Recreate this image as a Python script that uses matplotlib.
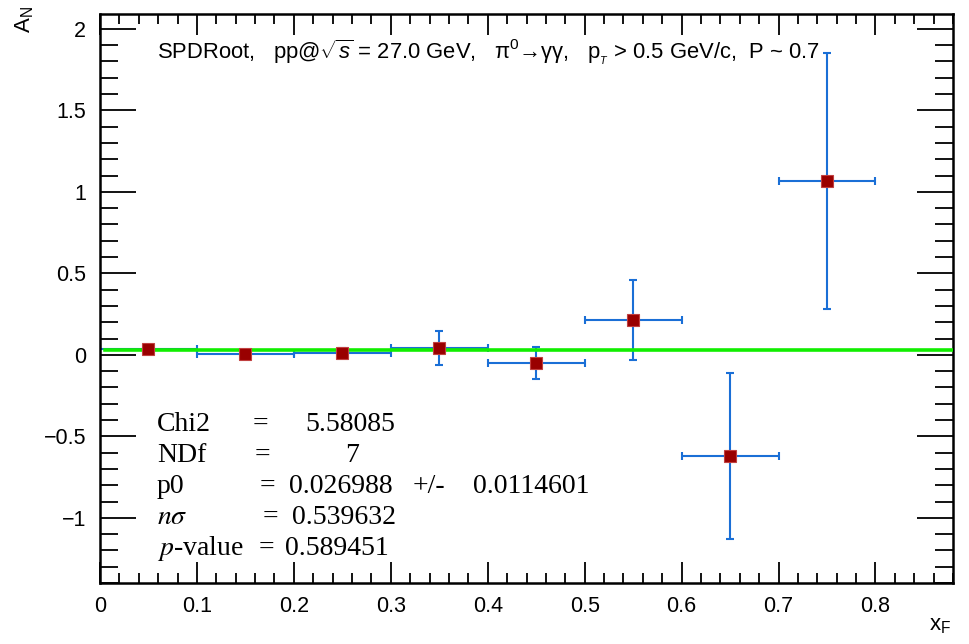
import numpy as np
import matplotlib
matplotlib.use("Agg")
import matplotlib.pyplot as plt
from matplotlib.ticker import MultipleLocator

# bin centres / half widths and asymmetry values
xf = [0.05, 0.15, 0.25, 0.35, 0.45, 0.55, 0.65, 0.75]
xf_err = [0.05, 0.05, 0.05, 0.05, 0.05, 0.05, 0.05, 0.05]
an = [0.033, 0.003, 0.012, 0.043, -0.05, 0.215, -0.62, 1.065]
an_err = [0.01, 0.01, 0.03, 0.105, 0.10, 0.245, 0.51, 0.785]

p0 = 0.026988
fit_range = [0.005, 0.88]

title = ("SPDRoot,   pp@$\\sqrt{s}$ = 27.0 GeV,   \u03c0$^{0}$\u2192\u03b3\u03b3,   "
         "p$_{_T}$ > 0.5 GeV/c,  P ~ 0.7")

plt.rcParams['font.family'] = ['Liberation Sans', 'DejaVu Sans']
plt.rcParams['mathtext.fontset'] = 'custom'
plt.rcParams['mathtext.rm'] = 'Liberation Sans'
plt.rcParams['mathtext.it'] = 'Liberation Sans:italic'

fig = plt.figure(figsize=(9.7, 6.44), dpi=100)
ax = fig.add_axes([0.1031, 0.0947, 0.8794, 0.8833])

ax.errorbar(xf, an, xerr=xf_err, yerr=an_err, fmt='none', ecolor='#1a6fd6',
            elinewidth=1.5, capsize=3, capthick=1.5, zorder=2)
ax.plot(fit_range, [p0, p0], color='#11ee00', lw=2.6, zorder=3)
ax.plot(xf, an, ls='none', marker='s', ms=9, mfc='#990000', mec='#c04040',
        mew=0.8, zorder=4)

ax.set_xlim(0, 0.88)
ax.set_ylim(-1.40, 2.09)
ax.xaxis.set_minor_locator(MultipleLocator(0.02))
ax.yaxis.set_minor_locator(MultipleLocator(0.1))
ax.tick_params(which='both', direction='in', top=True, right=True, width=1.3,
               labelsize=15.5)
ax.tick_params(axis='x', which='major', length=15, pad=9)
ax.tick_params(axis='x', which='minor', length=7)
ax.tick_params(axis='y', which='major', length=26, pad=10)
ax.tick_params(axis='y', which='minor', length=13)
ax.set_xticks(np.arange(0, 0.81, 0.1))
ax.set_xticklabels(['0', '0.1', '0.2', '0.3', '0.4', '0.5', '0.6', '0.7', '0.8'])
ax.set_yticks([-1, -0.5, 0, 0.5, 1, 1.5, 2])
ax.set_yticklabels(['\u22121', '\u22120.5', '0', '0.5', '1', '1.5', '2'])
for s in ax.spines.values():
    s.set_linewidth(1.8)

fig.text(0.014, 0.99, r"A$_{\mathregular{N}}$", rotation=90, ha='left', va='top', fontsize=16)
fig.text(0.958, 0.012, r"x$_{\mathregular{F}}$", ha='left', va='bottom', fontsize=16)

ax.text(0.067, 0.933, title, transform=ax.transAxes, fontsize=15.8, va='center')

# fit box, serif like the original
serif = dict(transform=ax.transAxes, fontsize=20, family='Liberation Serif', va='center')
keys = ["Chi2", "NDf", "p0", r"$n\sigma$", r"$p$-value"]
eq_x = [0.1876, 0.191, 0.1958, 0.1993, 0.1946]
vals = ["5.58085", "7", "0.026988", "0.539632", "0.589451"]
val_x = [0.2403, 0.2872, 0.2216, 0.225, 0.2169]
for i in range(5):
    yy = 0.279 - i * 0.0545
    ax.text(0.0668, yy, keys[i], math_fontfamily='stix', **serif)
    ax.text(eq_x[i], yy, "=", ha='center', **serif)
    ax.text(val_x[i], yy, vals[i], **serif)
ax.text(0.367, 0.279 - 2 * 0.0545, "+/-", **serif)
ax.text(0.4373, 0.279 - 2 * 0.0545, "0.0114601", **serif)

fig.savefig("out.png", dpi=100)
